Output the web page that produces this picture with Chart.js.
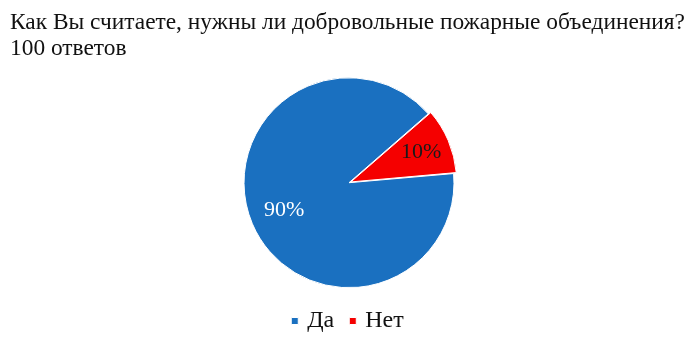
<!DOCTYPE html>
<html><head><meta charset="utf-8">
<script src="https://cdn.jsdelivr.net/npm/chart.js@4/dist/chart.umd.min.js"></script>
<style>html,body{margin:0;padding:0;background:#fff}#wrap{width:700px;height:341px}</style>
</head><body><div id="wrap"><canvas id="c"></canvas></div>
<script>
const titleLines = ["Как Вы считаете, нужны ли добровольные пожарные объединения?", "100 ответов"];
const categories = ["Да", "Нет"];
const values = [90, 10];
const percentLabels = ["90%", "10%"];
const colors = ["#1a70c0", "#f50000"];
const labelColors = ["#ffffff", "#1a1a1a"];

Chart.defaults.font.family = "'Liberation Serif', 'Times New Roman', serif";

const labelPlugin = {
  id: 'sliceLabels',
  afterDatasetsDraw(chart) {
    const ctx = chart.ctx;
    const meta = chart.getDatasetMeta(0);
    meta.data.forEach((arc, i) => {
      const p = arc.getProps(['x','y','startAngle','endAngle','outerRadius'], true);
      const mid = (p.startAngle + p.endAngle) / 2;
      const r = p.outerRadius * 0.67;
      const off = arc.options.offset || 0;
      const x = p.x + Math.cos(mid) * (r + off);
      const y = p.y + Math.sin(mid) * (r + off);
      ctx.save();
      ctx.font = "22px 'Liberation Serif', serif";
      ctx.fillStyle = labelColors[i];
      ctx.textAlign = 'center';
      ctx.textBaseline = 'middle';
      ctx.fillText(percentLabels[i], x, y);
      ctx.restore();
    });
  }
};

new Chart(document.getElementById('c'), {
  type: 'pie',
  data: {
    labels: categories,
    datasets: [{
      data: values,
      backgroundColor: colors,
      borderColor: '#ffffff',
      borderWidth: 1,
      offset: [0, 8]
    }]
  },
  options: {
    responsive: true,
    maintainAspectRatio: false,
    animation: false,
    rotation: 85,
    radius: 105,
    layout: { padding: { top: 0, bottom: -2, left: 10, right: 12 } },
    plugins: {
      tooltip: { enabled: false },
      title: {
        display: true,
        text: titleLines,
        align: 'start',
        color: '#111',
        font: { family: "'Liberation Serif', serif", size: 23.4, weight: 'normal', lineHeight: 1.12 },
        padding: { top: 10, bottom: 12 }
      },
      legend: {
        position: 'bottom',
        labels: {
          usePointStyle: true,
          pointStyle: 'rect',
          boxWidth: 1,
          boxHeight: 7,
          padding: 18,
          color: '#111',
          font: { family: "'Liberation Serif', serif", size: 24 }
        }
      }
    }
  },
  plugins: [labelPlugin]
});
</script>
</body></html>
